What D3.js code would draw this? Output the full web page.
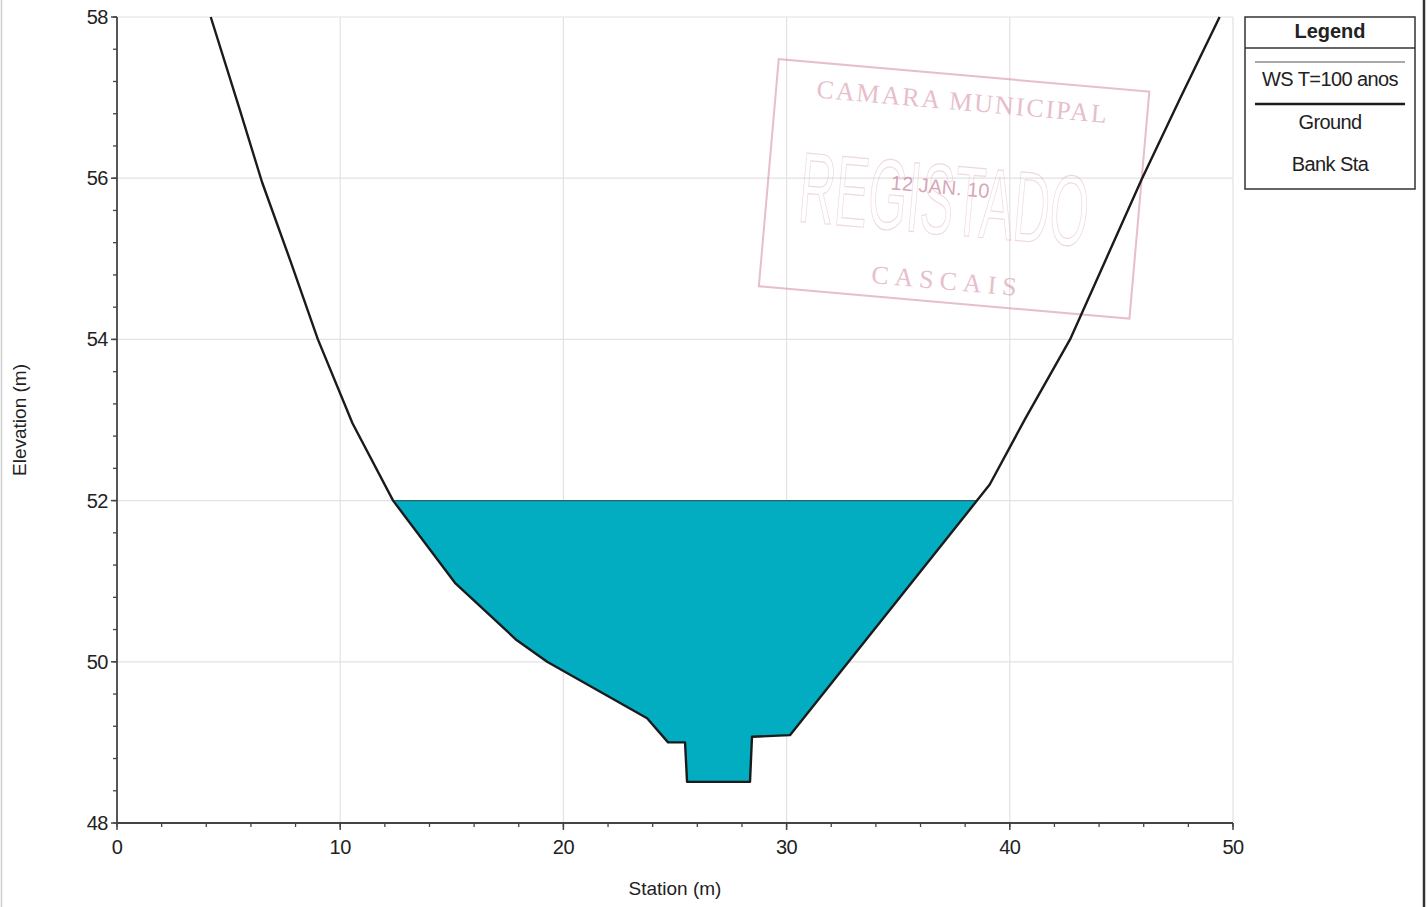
<!DOCTYPE html>
<html>
<head>
<meta charset="utf-8">
<script src="https://cdn.jsdelivr.net/npm/d3@7"></script>
<style>
  html, body { margin: 0; padding: 0; background: #fff; }
  svg { display: block; font-family: "Liberation Sans", Arial, sans-serif; }
</style>
</head>
<body>
<svg id="chart" width="1428" height="907"></svg>
<script>
// ---- data ----
const groundStation   = [4.2, 5.5, 6.5, 7.8, 9.0, 10.55, 12.37, 15.14, 17.9, 19.27, 23.75, 24.69, 25.45, 25.54, 28.36, 28.45, 30.15, 38.53, 39.1, 40.7, 42.7, 44.35, 45.9, 47.65, 49.4];
const groundElevation = [58.0, 56.85, 55.95, 54.95, 54.0, 52.96, 52.0, 50.98, 50.27, 50.0, 49.3, 49.0, 49.0, 48.51, 48.51, 49.07, 49.09, 52.0, 52.2, 53.02, 54.0, 55.02, 55.98, 57.0, 58.0];
const wsElevation = 52.0;
const xDomain = [0, 50];
const yDomain = [48, 58];
const xTicks = [0, 10, 20, 30, 40, 50];
const xMinorTicks = d3.range(0, 50.01, 2);
const yTicks = [48, 50, 52, 54, 56, 58];
const yMinorTicks = d3.range(48, 58.01, 0.4);
const legendTitle = "Legend";
const legendLabels = ["WS T=100 anos", "Ground", "Bank Sta"];
const xTitle = "Station (m)";
const yTitle = "Elevation (m)";
const stampLines = ["CAMARA MUNICIPAL", "REGISTADO", "12 JAN. 10", "CASCAIS"];

// ---- layout ----
const svg = d3.select("#chart");
const M = { left: 117, top: 17, right: 1233, bottom: 823 };
const x = d3.scaleLinear().domain(xDomain).range([M.left, M.right]);
const y = d3.scaleLinear().domain(yDomain).range([M.bottom, M.top]);
const ground = groundStation.map((s, i) => ({ s, e: groundElevation[i] }));

// page frame
svg.append("line").attr("x1", 1.5).attr("x2", 1.5).attr("y1", 0).attr("y2", 907).attr("stroke", "#cfcfcf").attr("stroke-width", 1.5);
svg.append("line").attr("x1", 1424).attr("x2", 1424).attr("y1", 0).attr("y2", 907).attr("stroke", "#333").attr("stroke-width", 2.5);

// grid
const grid = svg.append("g").attr("stroke", "#e2e2e2").attr("stroke-width", 1.2);
grid.selectAll(".gx").data(xTicks.filter(d => d > 0)).join("line")
  .attr("x1", d => x(d)).attr("x2", d => x(d)).attr("y1", y(yDomain[0])).attr("y2", y(yDomain[1]));
grid.selectAll(".gy").data(yTicks.filter(d => d > 48)).join("line")
  .attr("y1", d => y(d)).attr("y2", d => y(d)).attr("x1", x(xDomain[0])).attr("x2", x(xDomain[1]));

// stamp (scanned registration stamp)
const stamp = svg.append("g").attr("transform", "translate(955,190) rotate(5)").attr("opacity", 0.5);
const sc = "#d07f98";
stamp.append("rect").attr("x", -187).attr("y", -115).attr("width", 372).attr("height", 228)
  .attr("fill", "none").attr("stroke", sc).attr("stroke-width", 2);
stamp.append("text").attr("x", 0).attr("y", -80).attr("text-anchor", "middle").attr("font-size", 26)
  .attr("letter-spacing", 2).attr("fill", sc).attr("font-family", "Liberation Serif, serif").text(stampLines[0]);
stamp.append("text").attr("x", -10).attr("y", 45).attr("text-anchor", "middle").attr("font-size", 100)
  .attr("fill", "none").attr("stroke", sc).attr("stroke-width", 1.2).attr("opacity", 0.6)
  .attr("textLength", 290).attr("lengthAdjust", "spacingAndGlyphs").text(stampLines[1]);
stamp.append("text").attr("x", -15).attr("y", 5).attr("text-anchor", "middle").attr("font-size", 20)
  .attr("fill", "#b05070").text(stampLines[2]);
stamp.append("text").attr("x", 0).attr("y", 100).attr("text-anchor", "middle").attr("font-size", 26)
  .attr("letter-spacing", 6).attr("fill", sc).attr("font-family", "Liberation Serif, serif").text(stampLines[3]);

// water polygon: ground below WS, closed by WS line
function waterPolygon() {
  const pts = [];
  for (let i = 0; i < ground.length - 1; i++) {
    const a = ground[i], b = ground[i + 1];
    const aIn = a.e <= wsElevation, bIn = b.e <= wsElevation;
    if (aIn) pts.push(a);
    if (aIn !== bIn) {
      const t = (wsElevation - a.e) / (b.e - a.e);
      pts.push({ s: a.s + t * (b.s - a.s), e: wsElevation });
    }
  }
  const last = ground[ground.length - 1];
  if (last.e <= wsElevation) pts.push(last);
  return pts;
}
const water = waterPolygon();
const line = d3.line().x(d => x(d.s)).y(d => y(d.e));
svg.append("path").datum(water).attr("d", line(water) + "Z")
  .attr("fill", "#02adc1").attr("stroke", "none");
// WS line
svg.append("line")
  .attr("x1", x(water[0].s)).attr("x2", x(water[water.length - 1].s))
  .attr("y1", y(wsElevation)).attr("y2", y(wsElevation))
  .attr("stroke", "#2a5f70").attr("stroke-width", 1.3);

// ground line
svg.append("path").datum(ground).attr("d", line)
  .attr("fill", "none").attr("stroke", "#1b1b1b").attr("stroke-width", 2.4).attr("stroke-linejoin", "round");

// axes
const axColor = "#444";
const axes = svg.append("g").attr("stroke", axColor);
axes.append("line").attr("x1", x(0)).attr("x2", x(0)).attr("y1", y(58)).attr("y2", y(48)).attr("stroke-width", 1.8);
axes.append("line").attr("x1", x(0)).attr("x2", x(50)).attr("y1", y(48)).attr("y2", y(48)).attr("stroke-width", 1.8);
axes.selectAll(".ymin").data(yMinorTicks).join("line")
  .attr("x1", x(0) - 4).attr("x2", x(0)).attr("y1", d => y(d)).attr("y2", d => y(d)).attr("stroke-width", 1.3);
axes.selectAll(".ymaj").data(yTicks).join("line")
  .attr("x1", x(0) - 6).attr("x2", x(0)).attr("y1", d => y(d)).attr("y2", d => y(d)).attr("stroke-width", 1.5);
axes.selectAll(".xmin").data(xMinorTicks).join("line")
  .attr("x1", d => x(d)).attr("x2", d => x(d)).attr("y1", y(48)).attr("y2", y(48) + 4).attr("stroke-width", 1.3);
axes.selectAll(".xmaj").data(xTicks).join("line")
  .attr("x1", d => x(d)).attr("x2", d => x(d)).attr("y1", y(48)).attr("y2", y(48) + 7).attr("stroke-width", 1.5);

const txt = "#222";
svg.append("g").selectAll("text").data(yTicks).join("text")
  .attr("x", x(0) - 9).attr("y", d => y(d) + 7).attr("text-anchor", "end")
  .attr("font-size", 20).attr("fill", txt).attr("letter-spacing", -0.5).text(d => d);
svg.append("g").selectAll("text").data(xTicks).join("text")
  .attr("x", d => x(d)).attr("y", y(48) + 31).attr("text-anchor", "middle")
  .attr("font-size", 20).attr("fill", txt).attr("letter-spacing", -0.5).text(d => d);

svg.append("text").attr("x", (x(0) + x(50)) / 2).attr("y", 895).attr("text-anchor", "middle")
  .attr("font-size", 19).attr("fill", txt).text(xTitle);
svg.append("text").attr("transform", `translate(26,${(y(48) + y(58)) / 2}) rotate(-90)`)
  .attr("text-anchor", "middle").attr("font-size", 19).attr("fill", txt).text(yTitle);

// legend
const lg = svg.append("g");
const LX = 1245, LW = 170, LY = 17, LH = 172, cx = LX + LW / 2;
lg.append("rect").attr("x", LX).attr("y", LY).attr("width", LW).attr("height", LH)
  .attr("fill", "#fff").attr("stroke", "#333").attr("stroke-width", 1.5);
lg.append("text").attr("x", cx).attr("y", 38).attr("text-anchor", "middle").attr("font-size", 20)
  .attr("font-weight", "bold").attr("fill", txt).text(legendTitle);
lg.append("line").attr("x1", LX).attr("x2", LX + LW).attr("y1", 48).attr("y2", 48).attr("stroke", "#333").attr("stroke-width", 1.5);
lg.append("line").attr("x1", LX + 10).attr("x2", LX + LW - 10).attr("y1", 62).attr("y2", 62).attr("stroke", "#555").attr("stroke-width", 1.2);
lg.append("line").attr("x1", LX + 10).attr("x2", LX + LW - 10).attr("y1", 104).attr("y2", 104).attr("stroke", "#1b1b1b").attr("stroke-width", 2.4);
const legendY = [86, 129, 171];
lg.selectAll(".lt").data(legendLabels).join("text")
  .attr("x", cx).attr("y", (d, i) => legendY[i]).attr("text-anchor", "middle")
  .attr("font-size", 20).attr("fill", txt).attr("letter-spacing", -0.6).text(d => d);
</script>
</body>
</html>
